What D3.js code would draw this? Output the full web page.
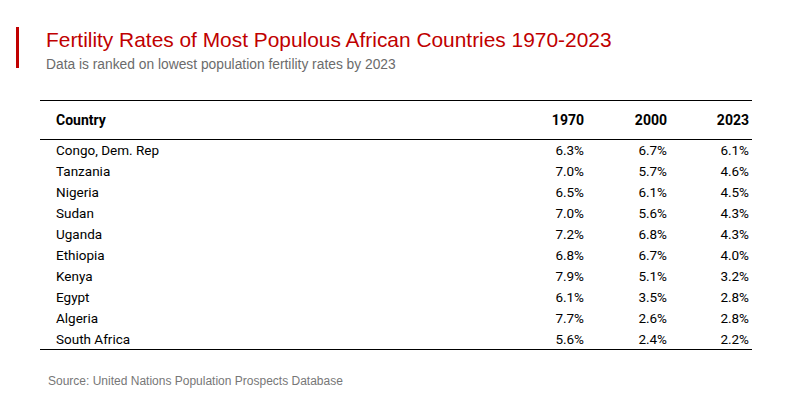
<!DOCTYPE html>
<html><head><meta charset="utf-8">
<script src="https://cdn.jsdelivr.net/npm/d3@7"></script>
<style>body{margin:0;background:#fff;}</style>
</head><body>
<svg id="chart" width="800" height="400"></svg>
<script>
const countries = ["Congo, Dem. Rep","Tanzania","Nigeria","Sudan","Uganda","Ethiopia","Kenya","Egypt","Algeria","South Africa"];
const years = ["1970","2000","2023"];
const rate1970 = [6.3,7.0,6.5,7.0,7.2,6.8,7.9,6.1,7.7,5.6];
const rate2000 = [6.7,5.7,6.1,5.6,6.8,6.7,5.1,3.5,2.6,2.4];
const rate2023 = [6.1,4.6,4.5,4.3,4.3,4.0,3.2,2.8,2.8,2.2];
const series = [rate1970, rate2000, rate2023];

const svg = d3.select("#chart");
const tfont = "Roboto,'Liberation Sans',sans-serif";

svg.append("rect").attr("x",16).attr("y",27).attr("width",3).attr("height",41).attr("fill","#c00000");
svg.append("text").attr("x",46).attr("y",47).attr("font-family","'Liberation Sans',Arial,sans-serif")
  .attr("font-size",20.9).attr("fill","#c00000").text("Fertility Rates of Most Populous African Countries 1970-2023");
svg.append("text").attr("x",46).attr("y",69).attr("font-family","'Liberation Sans',Arial,sans-serif")
  .attr("font-size",13.8).attr("fill","#6b6b6b").text("Data is ranked on lowest population fertility rates by 2023");

const x0 = 40, x1 = 752;
const y = d3.scaleBand().domain(countries).range([140, 350]).padding(0);
const colX = d3.scaleOrdinal().domain(years).range([584, 667, 749]);

svg.append("line").attr("x1",x0).attr("x2",x1).attr("y1",100.5).attr("y2",100.5).attr("stroke","#000").attr("stroke-width",1);
svg.append("line").attr("x1",x0).attr("x2",x1).attr("y1",139.5).attr("y2",139.5).attr("stroke","#000").attr("stroke-width",1);
svg.append("line").attr("x1",x0).attr("x2",x1).attr("y1",349.5).attr("y2",349.5).attr("stroke","#000").attr("stroke-width",1);

const hdr = svg.append("g").attr("font-family",tfont).attr("font-size",14).attr("font-weight","bold").attr("fill","#000");
hdr.append("text").attr("x",56).attr("y",125).text("Country");
hdr.selectAll(".yr").data(years).join("text").attr("x",d=>colX(d)).attr("y",125).attr("text-anchor","end").text(d=>d);

const rows = svg.append("g").attr("font-family",tfont).attr("font-size",13.5).attr("fill","#000");
rows.selectAll(".c").data(countries).join("text").attr("x",56).attr("y",d=>y(d)+y.bandwidth()/2+4).text(d=>d);
years.forEach((yr,i)=>{
  rows.selectAll(".v"+yr).data(series[i]).join("text")
    .attr("x",colX(yr)).attr("y",(d,j)=>y(countries[j])+y.bandwidth()/2+4)
    .attr("text-anchor","end").text(d=>d.toFixed(1)+"%");
});

svg.append("text").attr("x",48).attr("y",385).attr("font-family","'Liberation Sans',Arial,sans-serif")
  .attr("font-size",12).attr("fill","#777").text("Source: United Nations Population Prospects Database");
</script>
</body></html>
